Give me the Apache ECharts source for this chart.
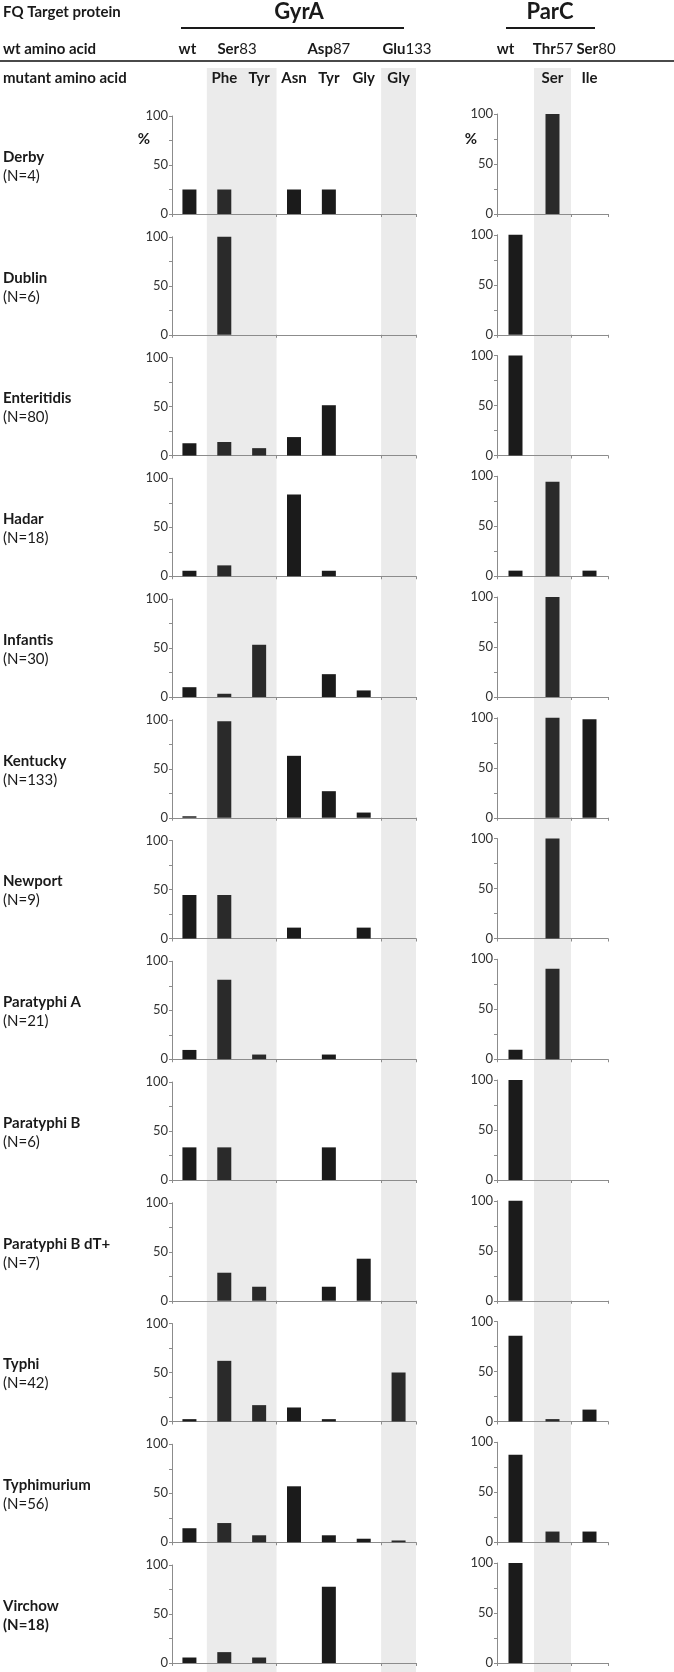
<!DOCTYPE html>
<html><head><meta charset="utf-8">
<script src="https://cdn.jsdelivr.net/npm/echarts@6/dist/echarts.min.js"></script>
<style>html,body{margin:0;padding:0;background:#fff}#c{width:674px;height:1672px}</style>
</head><body><div id="c"></div>
<script>
// ---------- data ----------
const serotypes = ['Derby','Dublin','Enteritidis','Hadar','Infantis','Kentucky','Newport','Paratyphi A','Paratyphi B','Paratyphi B dT+','Typhi','Typhimurium','Virchow'];
const nLabels = ['(N=4)','(N=6)','(N=80)','(N=18)','(N=30)','(N=133)','(N=9)','(N=21)','(N=6)','(N=7)','(N=42)','(N=56)','(N=18)'];
const gyrAKeys = ['wt','Ser83Phe','Ser83Tyr','Asp87Asn','Asp87Tyr','Asp87Gly','Glu133Gly'];
const gyrAMutLabels = ['','Phe','Tyr','Asn','Tyr','Gly','Gly'];
const parCKeys = ['wt','Thr57Ser','Ser80Ile'];
const parCMutLabels = ['','Ser','Ile'];
const gyrAShade = [0,1,1,0,0,0,1];
const parCShade = [0,1,0];
const yTicks = [0,50,100];
// percent of isolates, columns follow gyrAKeys
const gyrAPct = [
  [25,25,0,25,25,0,0],
  [0,100,0,0,0,0,0],
  [12.5,13.8,7.5,18.8,51.3,0,0],
  [5.6,11.1,0,83.3,5.6,0,0],
  [10,3.3,53.3,0,23.3,6.7,0],
  [1.5,98.5,0,63.2,27.1,5.3,0],
  [44.4,44.4,0,11.1,0,11.1,0],
  [9.5,81,4.8,0,4.8,0,0],
  [33.3,33.3,0,0,33.3,0,0],
  [0,28.6,14.3,0,14.3,42.9,0],
  [2.4,61.9,16.7,14.3,2.4,0,50],
  [14.3,19.6,7.1,57.1,7.1,3.6,1.8],
  [5.6,11.1,5.6,0,77.8,0,0]
];
// columns follow parCKeys
const parCPct = [
  [0,100,0],
  [100,0,0],
  [100,0,0],
  [5.6,94.4,5.6],
  [0,100,0],
  [0,100,98.5],
  [0,100,0],
  [9.5,90.5,0],
  [100,0,0],
  [100,0,0],
  [85.7,2.4,11.9],
  [87.5,10.7,10.7],
  [100,0,0]
];

// ---------- layout ----------
const FONT = 'Lato, "Open Sans", sans-serif';
const G = {left:172, width:244};
const P = {left:497, width:111};
const firstZero = 214, step = 120.75, plotH = 98;
const bandTop = 68;

const grids = [], xAxes = [], yAxes = [], series = [], graphic = [];

// contiguous shaded runs [start, end) in category index units
function runs(shade){
  const out = []; let s = -1;
  shade.forEach((v,i)=>{ if(v && s<0) s=i; if(!v && s>=0){ out.push([s,i]); s=-1; } });
  if(s>=0) out.push([s, shade.length]);
  return out;
}
// background shading grids (value axis in category units)
function addBg(geo, keys, shade){
  const gi = grids.length;
  grids.push({left:geo.left, width:geo.width, top:bandTop, height:1672-bandTop});
  xAxes.push({type:'value', gridIndex:gi, min:0, max:keys.length, show:false});
  yAxes.push({type:'value', gridIndex:gi, min:0, max:1, show:false});
  series.push({type:'custom', xAxisIndex:gi, yAxisIndex:gi, silent:true, z:0,
    data: runs(shade),
    renderItem:(params, api)=>{
      const a = api.coord([api.value(0), 1]);
      const b = api.coord([api.value(1), 0]);
      return {type:'rect', shape:{x:a[0], y:a[1], width:b[0]-a[0], height:b[1]-a[1]}, style:{fill:'#ebebeb'}};
    }});
}
addBg(G, gyrAKeys, gyrAShade);
addBg(P, parCKeys, parCShade);

function addPanel(geo, top, h, keys, vals, shade){
  const gi = grids.length;
  grids.push({left:geo.left, width:geo.width, top:top, height:h});
  xAxes.push({type:'category', gridIndex:gi, data:keys, boundaryGap:true,
    axisLine:{lineStyle:{color:'#8c8c8c', width:1}},
    axisTick:{show:true, length:3, lineStyle:{color:'#8c8c8c'}},
    axisLabel:{show:false}, splitLine:{show:false}});
  yAxes.push({type:'value', gridIndex:gi, min:0, max:100, interval:25,
    axisLine:{show:true, lineStyle:{color:'#8c8c8c', width:1}},
    axisTick:{show:true, length:3, lineStyle:{color:'#8c8c8c'}},
    axisLabel:{fontFamily:FONT, fontSize:13, color:'#333', margin:4,
      formatter:v => yTicks.includes(v) ? String(v) : ''},
    splitLine:{show:false}});
  series.push({type:'bar', xAxisIndex:gi, yAxisIndex:gi, barWidth:14, z:3, silent:true,
    data: vals.map((v,i)=>({value: v>0 ? v : '-', itemStyle:{color: shade[i] ? '#2a2a2a' : '#1b1b1b'}}))});
}

const LBL = 15;
serotypes.forEach((name, i) => {
  const zero = firstZero + step*i;
  addPanel(G, zero-plotH, plotH, gyrAKeys, gyrAPct[i], gyrAShade);
  addPanel(P, zero-plotH-2, plotH+2, parCKeys, parCPct[i], parCShade);
  graphic.push({type:'text', z:100, x:3, y:zero-57, style:{text:name, font:'bold '+LBL+'px '+FONT, fill:'#1a1a1a', verticalAlign:'middle'}});
  const last = i === serotypes.length-1;
  graphic.push({type:'text', z:100, x:3, y:zero-38, style:{text:nLabels[i], font:(last?'bold ':'')+LBL+'px '+FONT, fill:'#1a1a1a', verticalAlign:'middle'}});
});

// percent sign (first panel only)
graphic.push({type:'text', z:100, x:144, y:139, style:{text:'%', font:'bold 15px '+FONT, fill:'#1a1a1a', align:'center', verticalAlign:'middle'}});
graphic.push({type:'text', z:100, x:471, y:139, style:{text:'%', font:'bold 15px '+FONT, fill:'#1a1a1a', align:'center', verticalAlign:'middle'}});

// header
const gC = i => G.left + (i+0.5)*G.width/gyrAKeys.length;
const pC = i => P.left + (i+0.5)*P.width/parCKeys.length;
function txt(x,y,text,font,align){
  graphic.push({type:'text', z:100, x:x, y:y, style:{text:text, font:font, fill:'#1a1a1a', align:align||'center', verticalAlign:'middle'}});
}
function rich(x,y,a,b){
  graphic.push({type:'text', z:100, x:x, y:y, style:{text:'{a|'+a+'}{b|'+b+'}', align:'center', verticalAlign:'middle',
    rich:{a:{font:'bold '+LBL+'px '+FONT, fill:'#1a1a1a'}, b:{font:LBL+'px '+FONT, fill:'#1a1a1a'}}}});
}
const B = 'bold '+LBL+'px '+FONT;
txt(3,12,'FQ Target protein',B,'left');
txt(299,12,'GyrA','bold 22px '+FONT);
txt(550,12,'ParC','bold 22px '+FONT);
graphic.push({type:'line', z:100, shape:{x1:181,y1:28,x2:404,y2:28}, style:{stroke:'#1a1a1a', lineWidth:2}});
graphic.push({type:'line', z:100, shape:{x1:506,y1:28,x2:595,y2:28}, style:{stroke:'#1a1a1a', lineWidth:2}});
txt(3,49,'wt amino acid',B,'left');
txt(gC(0)-2,49,'wt',B);
rich(237,49,'Ser','83');
rich(gC(4),49,'Asp','87');
rich(407,49,'Glu','133');
txt(pC(0)-10,49,'wt',B);
rich(553,49,'Thr','57');
rich(596,49,'Ser','80');
graphic.push({type:'line', z:100, shape:{x1:0,y1:61,x2:674,y2:61}, style:{stroke:'#4a4a4a', lineWidth:2}});
txt(3,78,'mutant amino acid',B,'left');
gyrAMutLabels.forEach((l,i)=>{ if(l) txt(gC(i),78,l,B); });
parCMutLabels.forEach((l,i)=>{ if(l) txt(pC(i),78,l,B); });

const chart = echarts.init(document.getElementById('c'), null, {renderer:'canvas'});
chart.setOption({animation:false, backgroundColor:'#fff', grid:grids, xAxis:xAxes, yAxis:yAxes, series:series, graphic:graphic});
</script></body></html>
